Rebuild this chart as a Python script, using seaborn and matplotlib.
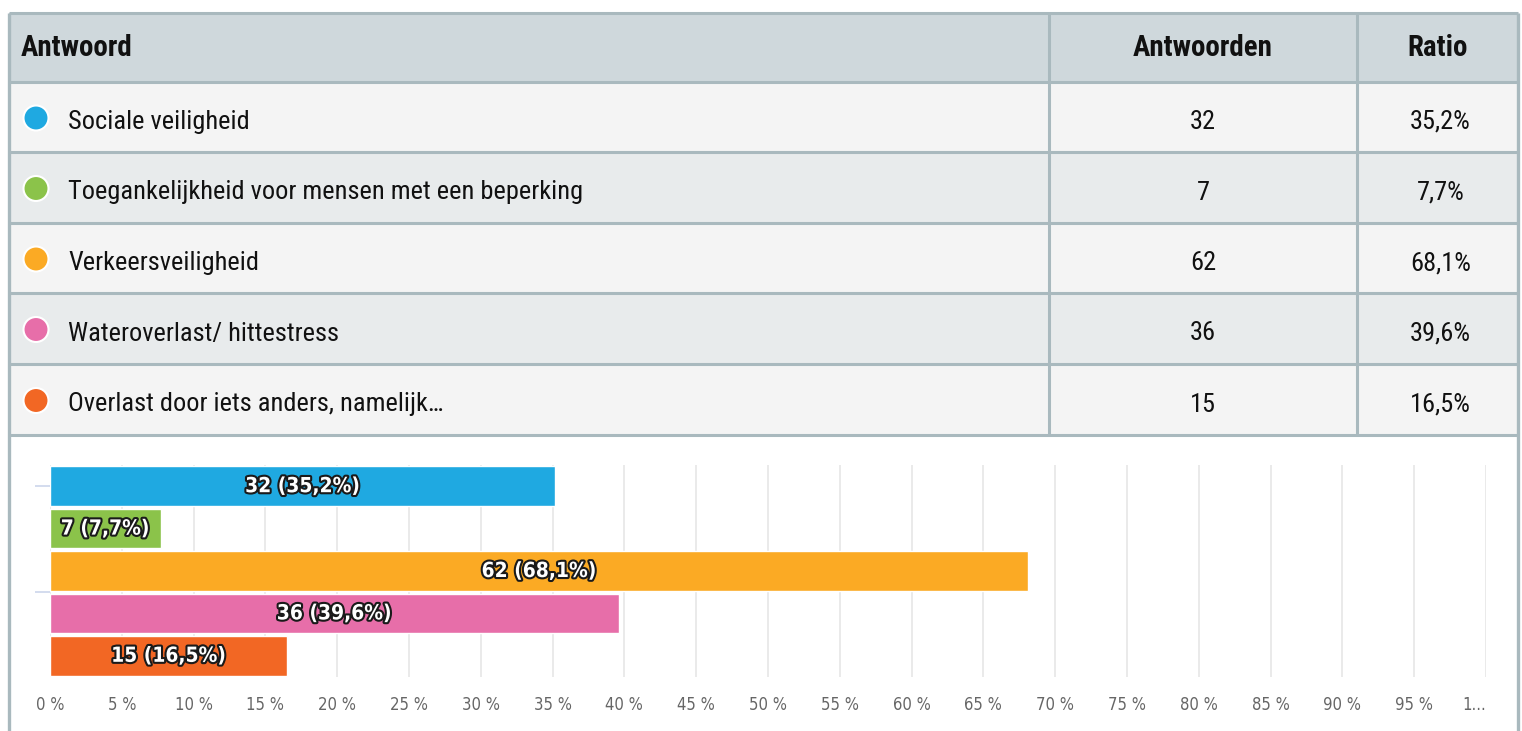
import matplotlib
matplotlib.use("Agg")
import matplotlib.pyplot as plt
import matplotlib.patheffects as pe
from matplotlib import font_manager as fm
from matplotlib.patches import Rectangle, Circle
import pandas as pd
import seaborn as sns

# --- data ---
answers = [
    "Sociale veiligheid",
    "Toegankelijkheid voor mensen met een beperking",
    "Verkeersveiligheid",
    "Wateroverlast/ hittestress",
    "Overlast door iets anders, namelijk...",
]
counts = [32, 7, 62, 36, 15]
ratios = [35.2, 7.7, 68.1, 39.6, 16.5]
colors = ["#1fa9e1", "#8bc34a", "#fbaa24", "#e76ea9", "#f26724"]
header = ["Antwoord", "Antwoorden", "Ratio"]
xticks = list(range(0, 101, 5))
xtick_labels = [f"{t} %" for t in xticks[:-1]] + ["1..."]

sns.set_theme(style="white")

# pick a narrow font if there is one, else Roboto
fonts = fm.fontManager.ttflist
condensed = [f for f in fonts if f.stretch in ("condensed", "semi-condensed", "extra-condensed")]
narrow = dict(family="Roboto")
big = 16.5
for name in ["Liberation Sans Narrow", "Roboto Condensed", "Open Sans Condensed", "DejaVu Sans"]:
    if any(f.name == name for f in condensed):
        narrow = dict(family=name, stretch="condensed")
        big = 19
        break
cond = dict(family="DejaVu Sans", stretch="condensed")

W, H = 1522, 731
fig = plt.figure(figsize=(W / 100, H / 100), dpi=100)
fig.patch.set_facecolor("white")

# --- table, drawn in pixel coordinates ---
tab = fig.add_axes([0, 0, 1, 1])
tab.set_xlim(0, W)
tab.set_ylim(H, 0)
tab.axis("off")

border = "#a9b9be"
left, right = 9, 1518
col1, col2 = 1049, 1357
row_y = [13, 82, 152, 223, 293, 364, 435]

tab.add_patch(Rectangle((left, row_y[0]), right - left, row_y[1] - row_y[0],
                        facecolor="#cfd8dc", edgecolor="none"))
for i in range(len(answers)):
    bg = "#f4f4f4" if i % 2 == 0 else "#e8ebec"
    tab.add_patch(Rectangle((left, row_y[i + 1]), right - left,
                            row_y[i + 2] - row_y[i + 1], facecolor=bg, edgecolor="none"))

for y in row_y:
    tab.plot([left, right], [y, y], color=border, lw=2.2, solid_capstyle="butt")
for x in (col1, col2):
    tab.plot([x, x], [row_y[0], row_y[-1]], color=border, lw=2.2, solid_capstyle="butt")
for x in (left, right):
    tab.plot([x, x], [row_y[0], H], color=border, lw=2.4, solid_capstyle="butt")

hy = (row_y[0] + row_y[1]) / 2 + 1
hsize = big * 1.1
tab.text(21, hy, header[0], fontsize=hsize, fontweight="bold", color="#111",
         va="center", ha="left", **narrow)
tab.text((col1 + col2) / 2, hy, header[1], fontsize=hsize, fontweight="bold", color="#111",
         va="center", ha="center", **narrow)
tab.text((col2 + right) / 2, hy, header[2], fontsize=hsize, fontweight="bold", color="#111",
         va="center", ha="center", **narrow)

for i, (a, c, r, col) in enumerate(zip(answers, counts, ratios, colors)):
    cy = (row_y[i + 1] + row_y[i + 2]) / 2
    tab.add_patch(Circle((36, cy + 1), 12.5, facecolor=col, edgecolor="white", lw=1.5))
    tab.text(68, cy + 5, a.replace("...", "\u2026"), fontsize=big, color="#111",
             va="center", ha="left", **narrow)
    tab.text((col1 + col2) / 2, cy + 5, str(c), fontsize=big, color="#111",
             va="center", ha="center", **narrow)
    tab.text((col2 + right) / 2 + 3, cy + 5, f"{r:.1f}%".replace(".", ","), fontsize=big,
             color="#111", va="center", ha="center", **narrow)

# --- bar chart ---
ax_l, ax_r, ax_t, ax_b = 50, 1486, 465, 677
ax = fig.add_axes([ax_l / W, 1 - ax_b / H, (ax_r - ax_l) / W, (ax_b - ax_t) / H])
df = pd.DataFrame({"answer": answers, "ratio": ratios})
sns.barplot(data=df, x="ratio", y="answer", hue="answer", palette=colors,
            orient="h", width=0.93, legend=False, edgecolor="white", linewidth=1,
            saturation=1, ax=ax)

ax.set_xlim(0, 100)
ax.set_ylim(len(answers) - 0.5, -0.5)
ax.set_xticks(xticks)
ax.set_xticklabels(xtick_labels, color="#666", fontsize=12, **cond)
ax.get_xticklabels()[-1].set_horizontalalignment("right")
ax.tick_params(axis="x", length=0, pad=14)
ax.set_yticks([0, 2.5])
ax.set_yticklabels(["", ""])
ax.tick_params(axis="y", left=True, length=11, width=1.2, color="#ccd6eb",
               direction="out", pad=0)
ax.grid(axis="x", color="#e6e6e6", lw=1.2)
ax.set_axisbelow(True)
for s in ax.spines.values():
    s.set_visible(False)
ax.set_xlabel("")
ax.set_ylabel("")

for cont in ax.containers:
    labels = []
    for bar in cont:
        idx = int(round(bar.get_y() + bar.get_height() / 2))
        labels.append(f"{counts[idx]} ({ratios[idx]:.1f}%)".replace(".", ","))
    txts = ax.bar_label(cont, labels=labels, label_type="center", color="white",
                        fontsize=15, fontweight="bold", **cond)
    for t in txts:
        t.set_path_effects([pe.withStroke(linewidth=3, foreground="#1a1a1a")])

fig.savefig("out.png", dpi=100, facecolor="white")
